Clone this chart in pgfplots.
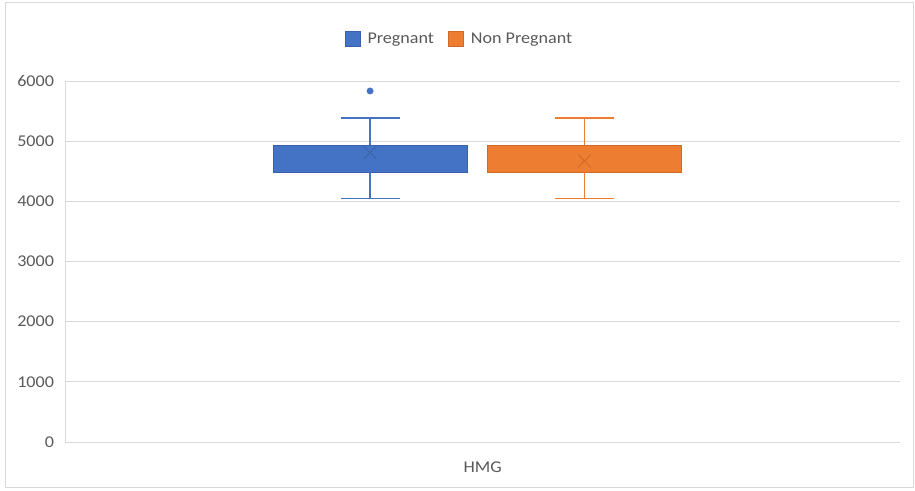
\documentclass[border=0pt]{standalone}
\usepackage{pgfplots}
\pgfplotsset{compat=1.18}
\usepackage{fontspec}
\setmainfont[FakeStretch=1.1]{Carlito}

\definecolor{pblue}{HTML}{4472C4}
\definecolor{pblueD}{HTML}{3A62AC}
\definecolor{porange}{HTML}{ED7D31}
\definecolor{porangeD}{HTML}{CF6A2A}
\definecolor{gridgray}{HTML}{D9D9D9}
\definecolor{textgray}{HTML}{595959}

\begin{document}
\begin{tikzpicture}
\begin{axis}[
  scale only axis,
  width=834.5bp, height=361bp,
  xmin=0, xmax=100, ymin=0, ymax=6000,
  xtick={50}, xticklabels={HMG},
  ytick={0,1000,2000,3000,4000,5000,6000},
  ymajorgrids,
  grid style={gridgray, line width=0.8bp},
  axis x line*=bottom, axis y line*=left,
  axis line style={gridgray, line width=0.8bp},
  major tick length=0pt,
  /pgf/number format/assume math mode=true,
  /pgf/number format/1000 sep={},
  scaled y ticks=false,
  tick label style={font=\fontsize{16.5}{19}\selectfont, text=textgray},
  yticklabel style={xshift=-8bp},
  xticklabel style={yshift=-16bp},
  legend style={at={(0.472,1.116)}, anchor=center, draw=none, fill=none,
    font=\fontsize{16.5}{19}\selectfont, text=textgray,
    legend columns=2,
    /tikz/every even column/.append style={column sep=12bp}},
  legend cell align=left,
  unbounded coords=jump,
]

% Pregnant: box (Q1 = 4487, Q3 = 4936)
\addplot[draw=pblueD, fill=pblue, line width=1bp,
  legend image code/.code={\draw[draw=pblueD, fill=pblue, line width=0.8bp] (0bp,-7.5bp) rectangle (15bp,7.5bp); \path (20bp,0bp);}]
  coordinates {(24.875,4487) (48.125,4487) (48.125,4936) (24.875,4936)} -- cycle;
\addlegendentry{Pregnant}

% Non Pregnant: box
\addplot[draw=porangeD, fill=porange, line width=1bp,
  legend image code/.code={\draw[draw=porangeD, fill=porange, line width=0.8bp] (0bp,-7.5bp) rectangle (15bp,7.5bp); \path (20bp,0bp);}]
  coordinates {(50.575,4487) (73.825,4487) (73.825,4936) (50.575,4936)} -- cycle;
\addlegendentry{Non Pregnant}

% whiskers (min 4050, max 5385)
\addplot[forget plot, draw=pblue, line width=1.2bp] coordinates {
  (36.5,4936) (36.5,5385) (36.5,nan)
  (32.965,5385) (40.035,5385) (40.035,nan)
  (36.5,4487) (36.5,4050) (36.5,nan)
  (32.965,4050) (40.035,4050)};
\addplot[forget plot, draw=porange, line width=1.2bp] coordinates {
  (62.2,4936) (62.2,5385) (62.2,nan)
  (58.665,5385) (65.735,5385) (65.735,nan)
  (62.2,4487) (62.2,4050) (62.2,nan)
  (58.665,4050) (65.735,4050)};

% outlier
\addplot[forget plot, only marks, mark=*, mark size=3.2bp,
  mark options={draw=pblue, fill=pblue}] coordinates {(36.5,5834)};

% means
\addplot[forget plot, only marks, mark=x, mark size=9bp,
  mark options={draw=pblueD, line width=0.9bp}] coordinates {(36.5,4810)};
\addplot[forget plot, only marks, mark=x, mark size=9bp,
  mark options={draw=porangeD, line width=0.9bp}] coordinates {(62.2,4670)};

\coordinate (ll) at (rel axis cs:0,0);
\coordinate (ur) at (rel axis cs:1,1);
\end{axis}

\draw[gridgray, line width=1bp]
  ([shift={(-60bp,-46bp)}]ll) rectangle ([shift={(13bp,78.5bp)}]ur);
\pgfresetboundingbox
\path ([shift={(-65.5bp,-49bp)}]ll) rectangle ([shift={(15bp,81bp)}]ur);
\end{tikzpicture}
\end{document}
